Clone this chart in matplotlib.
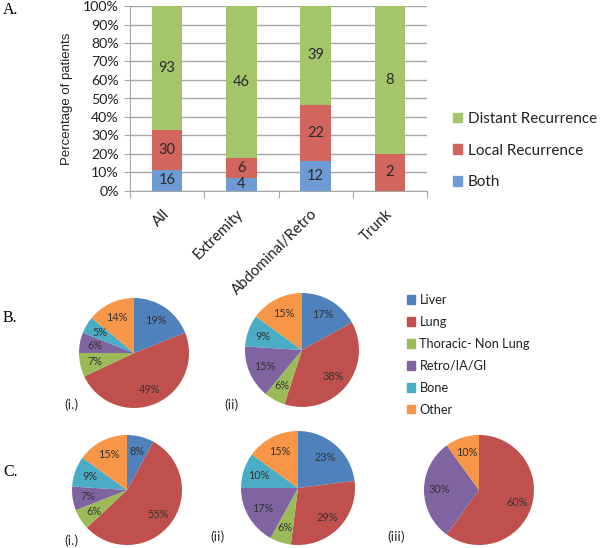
import matplotlib.pyplot as plt
import matplotlib.transforms as mtransforms
import numpy as np
from matplotlib.patches import Patch

# ---- data ----
categories = ['All', 'Extremity', 'Abdominal/Retro', 'Trunk']
both = [16, 4, 12, 0]
local = [30, 6, 22, 2]
distant = [93, 46, 39, 8]

sites = ['Liver', 'Lung', 'Thoracic- Non Lung', 'Retro/IA/GI', 'Bone', 'Other']
b_i = [19, 49, 7, 6, 5, 14]
b_ii = [17, 38, 6, 15, 9, 15]
c_i = [8, 55, 6, 7, 9, 15]
c_ii = [23, 29, 6, 17, 10, 15]
c_iii = [0, 60, 0, 30, 0, 10]

bar_colors = ['#6E9BD3', '#D2655E', '#A5C56B']   # both, local, distant
pie_colors = ['#4F81BD', '#C0504D', '#9BBB59', '#8064A2', '#4BACC6', '#F79646']

W, H = 601, 548
fig = plt.figure(figsize=(W / 100, H / 100), dpi=100)
sans = 'Lato'


def px_axes(left, top, w, h):
    return fig.add_axes([left / W, 1 - (top + h) / H, w / W, h / H])


# ---- A. stacked percentage bars ----
ax = px_axes(130, 6, 297, 185)
cnt = np.array([both, local, distant], dtype=float)
pct = cnt / cnt.sum(axis=0) * 100
x = np.arange(len(categories))
bottom = np.zeros(len(categories))
for i in range(3):
    ax.bar(x, pct[i], 0.41, bottom=bottom, color=bar_colors[i], zorder=3)
    for j in range(len(categories)):
        if cnt[i, j] > 0:
            ax.text(x[j], bottom[j] + pct[i, j] / 2, '%d' % cnt[i, j], ha='center', va='center',
                    fontsize=10.5, color='#2a2a2a', family=sans, zorder=4)
    bottom += pct[i]

ax.set_xlim(-0.5, 3.5)
ax.set_ylim(0, 100)
ax.set_yticks(np.arange(0, 101, 10))
ax.set_yticklabels(['%d%%' % v for v in range(0, 101, 10)], family=sans, fontsize=10.2,
                   color='#222222')
ax.yaxis.grid(True, color='#A6A6A6', linewidth=1, zorder=0)
ax.set_xticks(np.arange(-0.5, 3.6, 1))
ax.set_xticklabels([])
ax.set_xticks(x, minor=True)
ax.set_xticklabels(categories, minor=True, rotation=45, ha='right', va='center',
                   rotation_mode='anchor', family=sans, fontsize=10.8, color='#222222')
shift = mtransforms.ScaledTranslation(7 / 100, 0, fig.dpi_scale_trans)
for lab in ax.get_xticklabels(minor=True):
    lab.set_transform(lab.get_transform() + shift)
ax.tick_params(axis='x', which='minor', length=0, pad=15)
ax.tick_params(axis='x', which='major', length=5, color='#A6A6A6', direction='out')
ax.tick_params(axis='y', length=4, color='#A6A6A6', pad=4)
for s in ['top', 'right']:
    ax.spines[s].set_visible(False)
for s in ['left', 'bottom']:
    ax.spines[s].set_color('#A6A6A6')
ax.set_ylabel('Percentage of patients', family='Liberation Sans', fontsize=9.5, labelpad=7,
              color='#222222')

handles = [Patch(color=bar_colors[2]), Patch(color=bar_colors[1]), Patch(color=bar_colors[0])]
fig.legend(handles, ['Distant Recurrence', 'Local Recurrence', 'Both'], loc='upper left',
           bbox_to_anchor=(453 / W, 1 - 112 / H), frameon=False,
           prop={'family': sans, 'size': 11}, labelcolor='#222222',
           handlelength=0.6, handleheight=0.6, handletextpad=0.35, labelspacing=1.15,
           borderpad=0, borderaxespad=0)

# ---- B. / C. pies ----
pies = [(b_i, 134, 353, 55), (b_ii, 302, 350, 57),
        (c_i, 127, 490, 55), (c_ii, 298, 488, 57), (c_iii, 479, 490, 55)]
for vals, cx, cy, r in pies:
    pax = px_axes(cx - r, cy - r, 2 * r, 2 * r)
    pax.pie(vals, colors=pie_colors, startangle=90, counterclock=False,
            autopct=lambda p: '%.0f%%' % p if p > 0.5 else '', pctdistance=0.72,
            textprops={'fontsize': 7.8, 'color': '#333333', 'family': sans})
    pax.set_xlim(-1, 1)
    pax.set_ylim(-1, 1)
    pax.set_aspect('equal')
    pax.axis('off')

fig.legend([Patch(color=c) for c in pie_colors], sites, loc='upper left',
           bbox_to_anchor=(407 / W, 1 - 294 / H), frameon=False,
           prop={'family': sans, 'size': 9.2}, labelcolor='#222222',
           handlelength=0.62, handleheight=0.62, handletextpad=0.35, labelspacing=0.78,
           borderpad=0, borderaxespad=0)

# panel letters and sub labels
for letter, yy in [('A.', 10), ('B.', 318), ('C.', 472)]:
    fig.text(3 / W, 1 - yy / H, letter, family='Liberation Serif', fontsize=11.5, va='center', ha='left')
for lab, xx, yy in [('(i.)', 64, 405), ('(ii)', 224, 405), ('(i.)', 64, 541),
                    ('(ii)', 210, 537), ('(iii)', 387, 537)]:
    fig.text(xx / W, 1 - yy / H, lab, family=sans, fontsize=10, color='#333333', va='center', ha='left')

fig.savefig('out.png', dpi=100)
